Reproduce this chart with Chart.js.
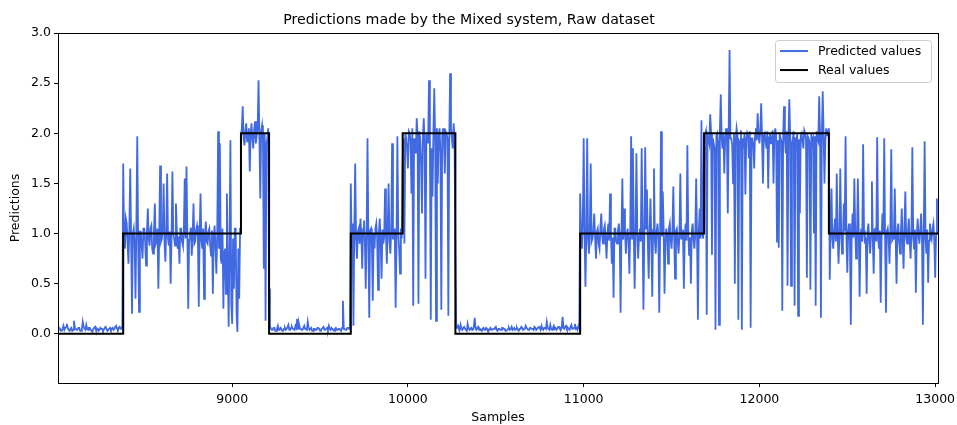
<!DOCTYPE html>
<html>
<head>
<meta charset="utf-8">
<title>Predictions made by the Mixed system, Raw dataset</title>
<script src="https://cdn.jsdelivr.net/npm/chart.js@4/dist/chart.umd.min.js"></script>
<style>
  html, body { margin: 0; padding: 0; background: #fff; }
  #wrap { width: 957px; height: 425px; }
</style>
</head>
<body>
<div id="wrap"><canvas id="predChart" width="957" height="425"></canvas></div>
<script>
// Samples axis: one predicted value every 5 samples, starting at 8010
const sampleStart = 8010;
const sampleStep = 5;

// Predicted values, 20 per row = 100 samples per row
const predicted = [
  // 8010 - 8105
  0.04, 0.06, 0.05, 0.03, 0.03, 0.05, 0.08, 0.04, 0.06, 0.07, 0.10, 0.05, 0.04, 0.03, 0.05, 0.06, 0.03, 0.04, 0.13, 0.06,
  // 8110 - 8205
  0.05, 0.04, 0.04, 0.06, 0.06, 0.03, 0.03, 0.05, 0.12, 0.07, 0.05, 0.04, 0.09, 0.05, 0.04, 0.06, 0.06, 0.04, 0.03, 0.02,
  // 8210 - 8305
  0.05, 0.06, 0.07, 0.04, 0.04, 0.05, 0.03, 0.04, 0.06, 0.05, 0.05, 0.03, 0.04, 0.06, 0.07, 0.05, 0.03, 0.04, 0.05, 0.06,
  // 8310 - 8405 (step to 1 at 8380)
  0.04, 0.05, 0.06, 0.04, 0.05, 0.07, 0.08, 0.05, 0.04, 0.06, 0.07, 0.05, 0.05, 0.08, 1.70, 0.95, 0.85, 1.15, 1.10, 0.90,
  // 8410 - 8505
  0.70, 1.05, 1.65, 0.95, 0.20, 1.00, 1.05, 0.90, 0.35, 1.08, 1.97, 0.95, 0.22, 1.02, 1.02, 0.88, 0.75, 1.05, 1.05, 0.92,
  // 8510 - 8605
  0.68, 1.00, 1.25, 0.95, 0.88, 1.05, 1.08, 0.85, 0.80, 1.02, 1.30, 0.90, 0.93, 1.05, 0.45, 0.98, 1.68, 0.92, 0.95, 1.05,
  // 8610 - 8705
  1.50, 0.90, 0.72, 1.04, 1.60, 0.95, 0.88, 1.02, 0.50, 0.96, 1.62, 1.00, 0.95, 0.88, 1.30, 1.03, 0.85, 0.97, 0.70, 1.05,
  // 8710 - 8805
  1.05, 0.92, 0.88, 1.02, 1.55, 0.95, 1.67, 1.00, 0.25, 0.94, 1.00, 1.06, 0.78, 0.98, 1.30, 0.90, 0.92, 1.04, 1.08, 0.96,
  // 8810 - 8905
  0.27, 1.00, 1.40, 0.93, 0.85, 1.05, 0.35, 0.97, 1.12, 0.92, 0.90, 1.02, 1.05, 0.88, 0.78, 1.03, 0.40, 0.95, 1.08, 0.86,
  // 8910 - 9005
  0.60, 1.00, 2.02, 0.85, 1.90, 0.75, 0.70, 1.05, 0.25, 0.80, 0.85, 0.40, 1.40, 0.65, 0.07, 0.90, 1.93, 0.30, 0.10, 0.95,
  // 9010 - 9105 (step to 2 at 9050)
  0.45, 1.05, 1.05, 0.20, 0.02, 0.85, 0.35, 1.05, 1.95, 2.05, 2.27, 1.95, 1.88, 2.02, 2.10, 1.92, 1.95, 2.05, 1.62, 1.98,
  // 9110 - 9205
  2.10, 1.95, 1.85, 2.03, 2.12, 1.90, 1.98, 2.05, 2.53, 1.95, 1.35, 2.02, 2.08, 1.95, 0.65, 2.00, 0.13, 1.90, 1.95, 2.05,
  // 9210 - 9305 (back to 0)
  0.45, 0.08, 0.05, 0.04, 0.04, 0.06, 0.06, 0.03, 0.03, 0.05, 0.08, 0.04, 0.04, 0.06, 0.05, 0.03, 0.03, 0.05, 0.06, 0.04,
  // 9310 - 9405
  0.05, 0.07, 0.09, 0.04, 0.04, 0.06, 0.07, 0.05, 0.05, 0.04, 0.08, 0.06, 0.15, 0.05, 0.10, 0.06, 0.05, 0.04, 0.04, 0.06,
  // 9410 - 9505
  0.08, 0.05, 0.05, 0.04, 0.12, 0.06, 0.04, 0.05, 0.06, 0.03, 0.03, 0.05, 0.05, 0.04, 0.04, 0.06, 0.06, 0.05, 0.03, 0.04,
  // 9510 - 9605
  0.05, 0.06, 0.07, 0.04, 0.04, 0.05, 0.06, 0.04, 0.08, 0.05, 0.04, 0.06, 0.05, 0.04, 0.03, 0.05, 0.06, 0.04, 0.04, 0.05,
  // 9610 - 9705 (step to 1 at 9675)
  0.05, 0.04, 0.03, 0.06, 0.33, 0.05, 0.05, 0.04, 0.04, 0.06, 0.06, 0.05, 0.08, 1.50, 0.85, 1.10, 0.08, 1.05, 1.70, 0.95,
  // 9710 - 9805
  0.75, 1.02, 1.05, 0.90, 1.15, 0.98, 0.65, 1.05, 1.13, 0.92, 0.45, 1.00, 1.95, 0.95, 0.16, 1.03, 1.05, 0.88, 0.33, 1.00,
  // 9810 - 9905
  0.85, 1.05, 1.10, 0.95, 0.44, 1.02, 1.15, 0.90, 0.55, 1.04, 0.90, 0.97, 1.45, 1.00, 0.70, 1.06, 1.50, 0.93, 0.80, 1.02,
  // 9910 - 10005 (step to 2 at 9970)
  1.90, 0.95, 0.95, 1.05, 0.26, 0.90, 1.97, 1.02, 0.85, 0.60, 1.05, 0.95, 1.70, 1.95, 0.90, 2.00, 1.95, 1.85, 1.65, 2.02,
  // 10010 - 10105
  2.00, 1.92, 1.40, 2.05, 0.28, 1.95, 1.90, 1.80, 2.15, 1.98, 0.30, 2.02, 1.95, 1.70, 1.20, 1.95, 2.15, 1.88, 0.55, 2.00,
  // 10110 - 10205
  2.00, 1.90, 2.53, 1.95, 0.14, 1.85, 1.37, 2.02, 2.45, 1.92, 0.13, 2.05, 1.50, 1.95, 2.05, 1.80, 0.24, 1.98, 2.05, 1.90,
  // 10210 - 10305 (back to 0 at 10270)
  1.60, 2.02, 2.00, 1.95, 0.18, 1.90, 2.60, 2.05, 1.95, 1.85, 2.10, 1.98, 0.81, 0.06, 0.06, 0.08, 0.05, 0.04, 0.09, 0.05,
  // 10310 - 10405
  0.04, 0.06, 0.07, 0.05, 0.05, 0.03, 0.10, 0.06, 0.04, 0.05, 0.06, 0.04, 0.05, 0.07, 0.16, 0.05, 0.04, 0.06, 0.07, 0.04,
  // 10410 - 10505
  0.05, 0.04, 0.03, 0.05, 0.06, 0.04, 0.04, 0.06, 0.05, 0.03, 0.03, 0.05, 0.06, 0.04, 0.04, 0.05, 0.05, 0.06, 0.07, 0.04,
  // 10510 - 10605
  0.03, 0.05, 0.05, 0.04, 0.04, 0.06, 0.06, 0.05, 0.05, 0.03, 0.03, 0.04, 0.05, 0.06, 0.04, 0.05, 0.07, 0.04, 0.05, 0.06,
  // 10610 - 10705
  0.04, 0.05, 0.06, 0.04, 0.03, 0.05, 0.05, 0.07, 0.06, 0.04, 0.04, 0.05, 0.08, 0.06, 0.05, 0.04, 0.04, 0.06, 0.06, 0.05,
  // 10710 - 10805
  0.05, 0.04, 0.07, 0.06, 0.04, 0.05, 0.05, 0.07, 0.06, 0.04, 0.08, 0.05, 0.04, 0.06, 0.06, 0.05, 0.12, 0.06, 0.05, 0.04,
  // 10810 - 10905
  0.09, 0.05, 0.04, 0.06, 0.08, 0.05, 0.06, 0.04, 0.05, 0.07, 0.07, 0.05, 0.04, 0.06, 0.17, 0.06, 0.05, 0.07, 0.08, 0.05,
  // 10910 - 11005 (step to 1 at 10980)
  0.06, 0.05, 0.04, 0.07, 0.09, 0.05, 0.05, 0.06, 0.10, 0.05, 0.06, 0.04, 0.08, 0.06, 1.40, 1.05, 0.85, 1.10, 1.95, 1.00,
  // 11010 - 11105
  0.47, 1.00, 1.95, 0.95, 0.80, 1.05, 1.70, 0.92, 0.95, 1.03, 1.20, 0.96, 0.75, 1.02, 1.05, 0.90, 0.85, 1.05, 1.20, 0.98,
  // 11110 - 11205
  0.90, 1.04, 1.08, 0.95, 0.75, 1.00, 1.10, 0.93, 1.40, 1.02, 0.70, 0.96, 0.36, 1.05, 1.05, 0.92, 0.90, 1.03, 1.10, 0.97,
  // 11210 - 11305
  0.21, 1.00, 1.55, 0.94, 1.25, 1.04, 0.80, 0.98, 1.05, 0.92, 0.60, 1.05, 1.97, 0.95, 1.85, 1.00, 0.45, 0.96, 1.80, 1.04,
  // 11310 - 11405
  0.75, 0.98, 1.05, 0.92, 1.85, 1.03, 0.24, 0.96, 1.86, 1.05, 1.44, 0.90, 0.55, 1.02, 1.35, 0.95, 0.37, 1.04, 1.65, 0.93,
  // 11410 - 11505
  0.80, 1.02, 1.10, 0.95, 0.21, 1.00, 2.02, 0.97, 1.42, 1.04, 0.40, 0.92, 1.05, 0.98, 0.70, 1.05, 1.10, 0.94, 0.85, 1.02,
  // 11510 - 11605
  1.47, 0.96, 0.55, 1.03, 1.05, 0.92, 0.80, 1.00, 1.60, 0.95, 0.95, 1.04, 0.45, 0.97, 1.10, 0.93, 1.88, 1.02, 0.78, 0.96,
  // 11610 - 11705 (step to 2 at 11685)
  0.50, 1.03, 1.10, 0.94, 0.85, 1.00, 1.55, 0.97, 0.14, 1.02, 1.25, 0.95, 2.13, 1.00, 0.95, 1.95, 1.95, 2.02, 0.19, 1.98,
  // 11710 - 11805
  1.95, 1.90, 2.19, 2.00, 0.79, 1.95, 1.90, 1.85, 0.04, 1.98, 2.00, 1.92, 0.09, 2.02, 2.39, 1.95, 1.85, 2.00, 1.60, 1.93,
  // 11810 - 11905
  2.05, 1.96, 1.20, 2.02, 2.83, 1.95, 1.95, 1.88, 1.50, 2.00, 0.50, 1.94, 2.05, 1.98, 0.14, 1.92, 1.90, 2.03, 0.04, 1.95,
  // 11910 - 12005
  1.85, 2.00, 1.39, 1.94, 2.00, 1.97, 1.75, 2.02, 0.06, 1.95, 1.95, 1.88, 1.65, 2.00, 2.05, 1.93, 2.20, 1.97, 1.90, 2.03,
  // 12010 - 12105
  2.30, 1.95, 1.50, 1.98, 2.00, 1.92, 1.85, 2.02, 1.45, 1.96, 2.00, 1.90, 1.90, 2.03, 1.50, 1.95, 2.05, 1.97, 0.92, 1.93,
  // 12110 - 12205
  0.86, 2.00, 1.95, 1.92, 0.23, 1.98, 2.27, 1.94, 1.80, 2.02, 0.48, 1.95, 2.34, 1.97, 0.48, 1.90, 1.95, 2.02, 0.28, 1.96,
  // 12210 - 12305
  1.90, 2.00, 0.18, 1.94, 1.20, 1.98, 2.00, 1.92, 1.85, 2.03, 2.00, 1.95, 0.56, 1.97, 1.95, 1.90, 0.44, 2.00, 1.90, 1.94,
  // 12310 - 12405 (step to 1 at 12395)
  1.00, 1.97, 0.28, 2.02, 1.95, 1.92, 2.37, 1.98, 0.16, 1.95, 2.42, 2.00, 1.50, 1.93, 2.05, 1.98, 2.00, 2.05, 0.54, 1.05,
  // 12410 - 12505
  1.45, 0.95, 0.85, 1.03, 1.15, 0.92, 1.60, 1.00, 0.70, 0.96, 1.65, 1.04, 0.80, 0.93, 1.30, 1.02, 1.97, 0.95, 0.61, 1.03,
  // 12510 - 12605
  1.10, 0.92, 0.09, 1.00, 1.20, 0.96, 1.55, 1.04, 0.75, 0.94, 1.55, 1.02, 0.37, 0.97, 1.05, 0.92, 1.89, 1.03, 0.90, 0.96,
  // 12610 - 12705
  0.40, 1.02, 1.10, 0.93, 0.80, 1.00, 1.52, 0.95, 0.60, 1.04, 1.05, 0.92, 1.96, 0.98, 0.85, 1.03, 0.31, 0.95, 1.20, 1.00,
  // 12710 - 12805
  1.95, 0.94, 0.21, 1.02, 1.05, 0.96, 0.70, 1.04, 1.84, 0.93, 0.95, 1.00, 1.45, 0.97, 0.50, 1.03, 1.10, 0.92, 0.80, 1.02,
  // 12810 - 12905
  1.25, 0.95, 0.65, 1.03, 1.42, 0.96, 0.90, 1.02, 1.15, 0.93, 0.75, 1.00, 1.86, 0.97, 0.85, 1.04, 0.41, 0.94, 1.15, 1.00,
  // 12910 - 13005
  0.90, 1.03, 1.20, 0.95, 0.09, 1.00, 1.92, 0.96, 0.80, 1.04, 0.51, 0.93, 1.10, 1.00, 0.95, 1.05, 1.10, 0.92, 0.56, 1.00,
  // 13010
  1.35
];

// Real values: sample where each level starts, and the level
const realSamples = [8010, 8380, 9050, 9210, 9675, 9970, 10270, 10980, 11685, 12395, 13016];
const realLevels  = [0, 1, 2, 0, 1, 2, 0, 1, 2, 1, 1];

// Axis ticks
const xTicks = [9000, 10000, 11000, 12000, 13000];
const yTicks = [0, 0.5, 1, 1.5, 2, 2.5, 3];

const predPoints = predicted.map((v, i) => ({ x: sampleStart + i * sampleStep, y: v }));
const realPoints = realSamples.map((s, i) => ({ x: s, y: realLevels[i] }));

const FONT = 'DejaVu Sans';
Chart.defaults.font.family = FONT;
Chart.defaults.color = '#000';

// frame round the plot, like matplotlib spines
const framePlugin = {
  id: 'frame',
  afterDatasetsDraw(chart) {
    const a = chart.chartArea, ctx = chart.ctx;
    ctx.save();
    ctx.strokeStyle = '#000';
    ctx.lineWidth = 1;
    ctx.strokeRect(Math.round(a.left) + 0.5, Math.round(a.top) + 0.5,
                   Math.round(a.right - a.left), Math.round(a.bottom - a.top));
    ctx.restore();
  }
};

// legend box in the upper right corner of the plot
const boxLegend = {
  id: 'boxLegend',
  afterDraw(chart) {
    const a = chart.chartArea, ctx = chart.ctx;
    const w = 156, h = 42;
    const x0 = a.right - 7 - w, y0 = a.top + 7;
    ctx.save();
    ctx.beginPath();
    ctx.roundRect(x0 + 0.5, y0 + 0.5, w, h, 3);
    ctx.fillStyle = 'rgba(255,255,255,0.8)';
    ctx.fill();
    ctx.strokeStyle = '#cccccc';
    ctx.lineWidth = 1;
    ctx.stroke();
    ctx.font = '12.5px "' + FONT + '"';
    ctx.textBaseline = 'middle';
    chart.data.datasets.forEach((ds, i) => {
      const y = y0 + 11 + i * 19;
      ctx.beginPath();
      ctx.moveTo(x0 + 5, y);
      ctx.lineTo(x0 + 33, y);
      ctx.strokeStyle = ds.borderColor;
      ctx.lineWidth = 2;
      ctx.stroke();
      ctx.fillStyle = '#000';
      ctx.fillText(ds.label, x0 + 43, y + 1);
    });
    ctx.restore();
  }
};

new Chart(document.getElementById('predChart').getContext('2d'), {
  type: 'line',
  data: {
    datasets: [{
      label: 'Predicted values',
      data: predPoints,
      borderColor: '#4169e1',
      borderWidth: 1.8,
      pointRadius: 0,
      tension: 0,
      order: 1
    }, {
      label: 'Real values',
      data: realPoints,
      borderColor: '#000000',
      borderWidth: 2,
      pointRadius: 0,
      stepped: 'before',
      order: 0
    }]
  },
  options: {
    responsive: false,
    animation: false,
    layout: { padding: { left: 0, right: 19, top: 0, bottom: 0 } },
    plugins: {
      legend: { display: false },
      tooltip: { enabled: false },
      title: {
        display: true,
        text: 'Predictions made by the Mixed system, Raw dataset',
        color: '#000',
        font: { size: 14.2, weight: 'normal' },
        padding: { top: 12, bottom: 4 }
      }
    },
    scales: {
      x: {
        type: 'linear',
        min: 8009,
        max: 13016,
        afterBuildTicks: s => { s.ticks = xTicks.map(v => ({ value: v })); },
        afterFit: s => { s.height = 42; s.paddingLeft = 0; s.paddingRight = 0; },
        grid: { drawOnChartArea: false, drawTicks: true, tickLength: 4, color: '#000' },
        border: { display: false },
        ticks: { font: { size: 12.5 }, padding: 5, maxRotation: 0, callback: v => String(v) },
        title: { display: true, text: 'Samples', font: { size: 12.5 }, padding: { top: 0, bottom: 0 } }
      },
      y: {
        min: -0.49,
        max: 3.0,
        afterBuildTicks: s => { s.ticks = yTicks.map(v => ({ value: v })); },
        afterFit: s => { s.width = 58; s.paddingTop = 0; s.paddingBottom = 0; },
        grid: { drawOnChartArea: false, drawTicks: true, tickLength: 4, color: '#000' },
        border: { display: false },
        ticks: { font: { size: 12.5 }, padding: 3, callback: v => v.toFixed(1) },
        title: { display: true, text: 'Predictions', font: { size: 12.5 }, padding: { top: 8.5, bottom: 0 } }
      }
    }
  },
  plugins: [framePlugin, boxLegend]
});
</script>
</body>
</html>
